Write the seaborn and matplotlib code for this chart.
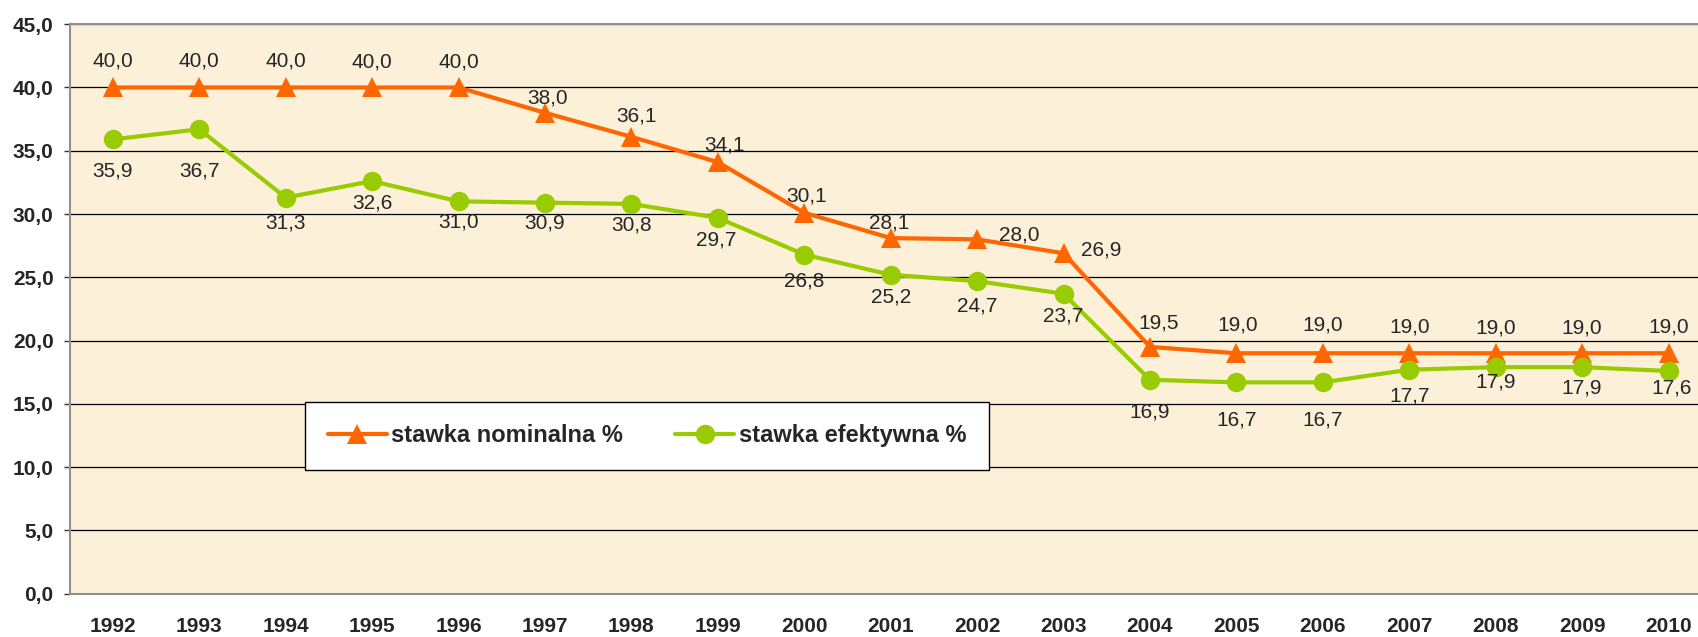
import numpy as np
import pandas as pd
import seaborn as sns
import matplotlib.pyplot as plt

# dane
lata = [str(r) for r in range(1992, 2011)]
nominalna = [40.0, 40.0, 40.0, 40.0, 40.0, 38.0, 36.1, 34.1, 30.1, 28.1, 28.0, 26.9,
             19.5, 19.0, 19.0, 19.0, 19.0, 19.0, 19.0]
efektywna = [35.9, 36.7, 31.3, 32.6, 31.0, 30.9, 30.8, 29.7, 26.8, 25.2, 24.7, 23.7,
             16.9, 16.7, 16.7, 17.7, 17.9, 17.9, 17.6]

# przesunięcia etykiet (punkty)
off_nom = [(0, 19), (0, 19), (0, 19), (0, 18), (0, 18), (2, 11), (4, 15), (5, 12), (2, 12),
           (-1, 11), (30, 3), (27, 2), (6, 17), (1, 20), (0, 20), (0, 19), (0, 18), (0, 18), (0, 19)]
off_ef = [(0, -23), (0, -30), (0, -18), (0, -16), (0, -15), (0, -15), (0, -15), (-1, -16), (0, -19),
          (0, -16), (0, -18), (0, -16), (0, -23), (0, -27), (0, -27), (0, -19), (0, -11), (0, -15), (2, -12)]

df = pd.DataFrame({'x': np.arange(len(lata)), 'rok': lata,
                   'nominalna': nominalna, 'efektywna': efektywna})

sns.set_style('white')
plt.rcParams['font.family'] = ['Liberation Sans', 'DejaVu Sans']

fig, ax = plt.subplots(figsize=(16.99, 6.37), dpi=100)
fig.subplots_adjust(left=0.041, right=1.0075, top=0.962, bottom=0.068)
ax.set_facecolor('#FCF0D9')

sns.lineplot(data=df, x='x', y='nominalna', ax=ax, color='#FF6600', lw=3,
             marker='^', markersize=15, markeredgewidth=0, label='stawka nominalna %')
sns.lineplot(data=df, x='x', y='efektywna', ax=ax, color='#99CC00', lw=3,
             marker='o', markersize=14, markeredgewidth=0, label='stawka efektywna %')

for i in range(len(lata)):
    ax.annotate(f"{nominalna[i]:.1f}".replace('.', ','), (i, nominalna[i]),
                xytext=off_nom[i], textcoords='offset points',
                ha='center', va='center', fontsize=15)
    ax.annotate(f"{efektywna[i]:.1f}".replace('.', ','), (i, efektywna[i]),
                xytext=off_ef[i], textcoords='offset points',
                ha='center', va='center', fontsize=15)

ax.set_xlim(-0.5, len(lata) - 0.5)
ax.set_ylim(0, 45)
ax.set_yticks(np.arange(0, 46, 5))
ax.set_yticklabels([f"{v:.1f}".replace('.', ',') for v in np.arange(0, 46, 5)],
                   fontsize=15, fontweight='bold')
ax.set_xticks(df['x'])
ax.set_xticklabels(lata, fontsize=15, fontweight='bold')
ax.set_xticks(np.arange(-0.5, len(lata), 1), minor=True)
ax.tick_params(axis='x', which='major', length=0, pad=17)
ax.tick_params(axis='x', which='minor', length=4.5, width=1, color='#333333', direction='out')
ax.tick_params(axis='y', length=4.5, width=1, color='#333333', direction='out', left=True, pad=7)
ax.set_xlabel('')
ax.set_ylabel('')

ax.yaxis.grid(True, color='black', lw=0.9)
ax.set_axisbelow(True)
for s in ['left', 'bottom', 'top']:
    ax.spines[s].set_color('#909090')
    ax.spines[s].set_linewidth(1.5)
ax.spines['right'].set_visible(False)

leg = ax.legend(loc='upper left', bbox_to_anchor=(0.1435, 0.337), ncol=2, frameon=True,
                fancybox=False, framealpha=1, edgecolor='black',
                prop={'weight': 'bold', 'size': 17}, handlelength=2.5, handletextpad=0.2,
                borderpad=0.95, columnspacing=2.2, borderaxespad=0)
leg.get_frame().set_linewidth(1)

plt.savefig('out.png', dpi=100)
